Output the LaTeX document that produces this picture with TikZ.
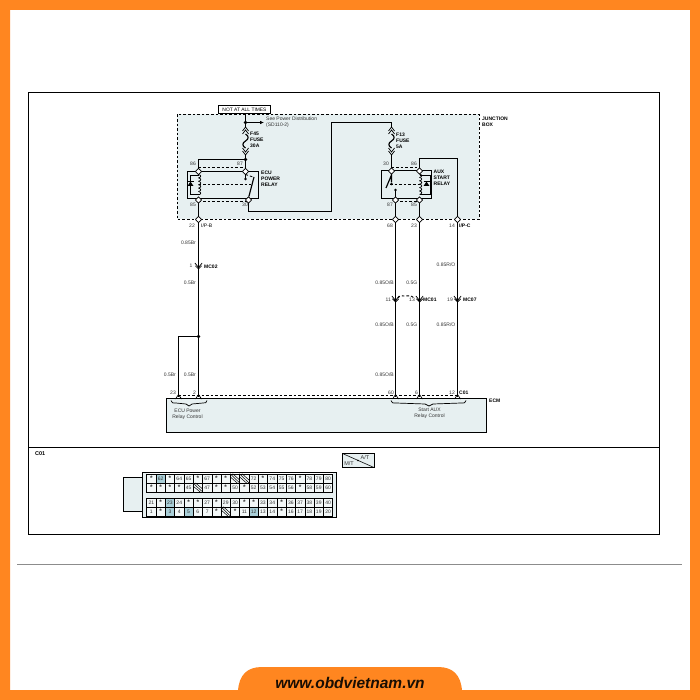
\documentclass[tikz,border=0pt]{standalone}
\usepackage{fontspec}
\setmainfont{Liberation Sans}
\usetikzlibrary{calc,arrows.meta}
\definecolor{orng}{HTML}{FF8620}
\definecolor{jbox}{HTML}{E7F0F1}
\definecolor{hl}{HTML}{A9CFD8}
\tikzset{
  wire/.style={line width=1.15pt,draw=black},
  dashw/.style={line width=0.9pt,draw=black,dash pattern=on 2.6pt off 2pt},
  lab/.style={font=\fontsize{5}{6}\selectfont,inner sep=0pt,text=black!80},
  blab/.style={font=\fontsize{5}{6}\selectfont\bfseries,inner sep=0pt,text=black},
  cell/.style={font=\fontsize{5}{5}\selectfont,inner sep=0pt,text=black!80},
  conn/.style={line width=0.7pt,draw=black},
  dotn/.style={circle,fill=black,inner sep=0pt,minimum size=3.6pt}
}
\newcommand{\stard}{\raisebox{-1.4pt}{\fontsize{6.5}{6}\selectfont\bfseries *}}
% connector glyphs
\newcommand{\dmd}[1]{\draw[conn,fill=white] ($(#1)+(0,-3.2)$) -- ($(#1)+(-3,0)$) -- ($(#1)+(0,3.2)$) -- ($(#1)+(3,0)$) -- cycle;}
\newcommand{\veeg}[1]{\draw[conn] ($(#1)+(-3.6,-3)$) -- ($(#1)+(0,1.5)$) -- ($(#1)+(3.6,-3)$) ($(#1)+(-3.2,-0.2)$) -- ($(#1)+(0,3)$) -- ($(#1)+(3.2,-0.2)$);}
\newcommand{\trig}[1]{\draw[conn] ($(#1)+(-3,2.5)$) -- ($(#1)+(0,-2)$) -- ($(#1)+(3,2.5)$);}
\newcommand{\coilat}[1]{\foreach \k in {0,...,5}{\draw[conn] ($(#1)+(0,\k*3.4+3)$) .. controls ($(#1)+(3,\k*3.4+3.6)$) and ($(#1)+(3,\k*3.4+5.8)$) .. ($(#1)+(0,\k*3.4+6.4)$);}}
\newcommand{\fuse}[1]{\draw[wire] ($(#1)+(0,6)$) .. controls ($(#1)+(3.5,8)$) and ($(#1)+(3.5,11)$) .. ($(#1)+(0,13)$) .. controls ($(#1)+(-3.5,15)$) and ($(#1)+(-3.5,18)$) .. ($(#1)+(0,20)$);
 \draw[conn] ($(#1)+(-3,3)$) -- ($(#1)+(0,-1)$) -- ($(#1)+(3,3)$) ($(#1)+(-3,6)$) -- ($(#1)+(0,2)$) -- ($(#1)+(3,6)$);
 \draw[conn] ($(#1)+(-3,20)$) -- ($(#1)+(0,24)$) -- ($(#1)+(3,20)$) ($(#1)+(-3,23)$) -- ($(#1)+(0,27)$) -- ($(#1)+(3,23)$);}
\newcommand{\diode}[1]{\fill[black] ($(#1)+(-3,2)$) -- ($(#1)+(3,2)$) -- ($(#1)+(0,-2.4)$) -- cycle; \draw[conn] ($(#1)+(-3,-2.4)$) -- ($(#1)+(3,-2.4)$);}
\begin{document}
\begin{tikzpicture}[x=1pt,y=-1pt]
\useasboundingbox (0,0) rectangle (700,700);
% frame
\fill[white] (0,0) rectangle (700,700);
\fill[orng,even odd rule] (0,0) rectangle (700,700) (10,10) rectangle (690,690);
\fill[orng] (238,691) .. controls (239,675) and (247,667) .. (262,667) -- (438,667) .. controls (453,667) and (461,675) .. (462,691) -- cycle;
\node[inner sep=0pt,font=\fontsize{15.5}{16}\selectfont\bfseries\itshape,text=black!90!orng] (site) at (350,683) {www.obdvietnam.vn};
\draw[black!45,line width=0.8pt] (17,564.5) -- (682,564.5);
% panel
\draw[black,line width=0.9pt] (28.5,92.5) rectangle (659.5,534.5);
\draw[black,line width=0.9pt] (28.5,447.5) -- (659.5,447.5);
% junction box
\draw[dashw,fill=jbox] (177,114.5) rectangle (479,219.5);
\node[blab,anchor=west,align=left] (jblabel) at (482,121.5) {JUNCTION\\BOX};
% ECM
\draw[fill=jbox,line width=0.9pt] (166.5,398.5) rectangle (486.5,432.5);
\node[blab,anchor=west] (ecmlabel) at (489,400.5) {ECM};
% coordinates
\coordinate (dotA) at (245.5,122.5);
\coordinate (seeT) at (264,122.5);
\coordinate (fuseL) at (245.5,128);
\coordinate (dotB) at (245.5,159.5);
\coordinate (n86) at (198.5,171.5);
\coordinate (n87) at (245.5,171.5);
\coordinate (n85) at (198.5,200);
\coordinate (n30) at (248.5,200);
\coordinate (j22) at (198.5,219.5);
\coordinate (mc1) at (198.5,266);
\coordinate (dotC) at (198.5,336.5);
\coordinate (e2) at (198.5,396.5);
\coordinate (e23) at (178.5,396.5);
\coordinate (fuseR) at (391.5,128);
\coordinate (a30) at (391.5,171);
\coordinate (a86) at (419.5,171);
\coordinate (a87) at (395.5,200);
\coordinate (a85) at (419.5,200);
\coordinate (j68) at (395.5,219.5);
\coordinate (j23) at (419.5,219.5);
\coordinate (j14) at (457.5,219.5);
\coordinate (m11) at (395.5,299);
\coordinate (m13) at (419.5,299);
\coordinate (m19) at (457.5,299);
\coordinate (e60) at (395.5,396.5);
\coordinate (e6) at (419.5,396.5);
\coordinate (e12) at (457.5,396.5);
% top box
\node[draw=black,line width=0.7pt,fill=white,inner sep=0pt,minimum width=52.5pt,minimum height=8pt,font=\fontsize{4.9}{5}\selectfont] (top) at (244.5,109.5) {NOT AT ALL TIMES};
% relay boxes
\draw[line width=0.9pt] (187.5,171.5) rectangle (258.5,198.5);
\draw[line width=0.9pt] (381.5,170.5) rectangle (431.5,198.5);
% left wires
\draw[wire] (top.south -| dotA) -- (dotA);
\draw[wire,-{Latex[length=4pt,width=3.6pt]}] (dotA) -- (seeT);
\draw[wire] (dotA) -- (fuseL);
\fuse{fuseL}
\draw[wire] (245.5,155) -- (dotB) -- (n87);
\draw[wire] (dotB) -- (198.5,159.5) -- (n86);
\draw[wire] (n87) -- (245.5,179);
\draw[wire] (n85) -- (j22) -- (e2);
\draw[wire] (n30) -- (248.5,211.5) -- (331.5,211.5) -- (331.5,122.5) -- (391.5,122.5) -- (fuseR);
\fuse{fuseR}
\draw[wire] (391.5,155) -- (a30);
\draw[wire] (dotC) -- (178.5,336.5) -- (e23);
% right wires
\draw[wire] (a86) -- (419.5,158.5) -- (457.5,158.5) -- (j14) -- (e12);
\draw[wire] (a87) -- (j68) -- (e60);
\draw[wire] (a85) -- (j23) -- (e6);
\draw[wire] (a87) -- (395.5,190);
% dashed
\draw[dashw] (198.5,167.5) -- (245.5,167.5);
\draw[dashw] (198.5,201.5) -- (248.5,201.5);
\draw[dashw] (198.5,184.5) -- (251,184.5);
\draw[dashw] (245.5,174.5) -- (253,177);
\draw[dashw] (391.5,167.5) -- (419.5,167.5);
\draw[dashw] (395.5,201.5) -- (419.5,201.5);
\draw[dashw] (390,184.5) -- (419.5,184.5);
\draw[dashw] (178.5,395.5) -- (457.5,395.5);
\draw[dashw] (398,298) .. controls (400,295) and (402,296) .. (405,296) .. controls (409,296) and (411,295) .. (414,298);
% coils & diodes
\coilat{n86}
\coilat{a86}
\draw[conn] (198.5,175) -- (190.5,175) -- (190.5,194) -- (198.5,194);
\draw[conn] (419.5,175) -- (430,175) -- (430,194) -- (419.5,194);
\diode{190.5,184}
\diode{426.5,184}
% switches
\node[dotn,minimum size=2.8pt] (c1) at (245.5,179) {};
\node[dotn,minimum size=2.8pt] (p1) at (248.5,198) {};
\draw[wire] (p1) -- (254,177);
\draw[wire] (n30) -- (p1);
\node[dotn,minimum size=2.8pt] (p2) at (391.5,184) {};
\node[dotn,minimum size=2.8pt] (c2) at (395.5,190) {};
\draw[wire] (a30) -- (391.5,175) -- (386,188) (391.5,175) -- (p2);
% connectors
\foreach \c in {n86,n87,n85,n30,a30,a86,a87,a85}{\dmd{\c}}
\foreach \c in {j22,j68,j23,j14}{\dmd{\c}}
\foreach \c in {mc1,m11,m13,m19}{\veeg{\c}}
\foreach \c in {e2,e23,e60,e6,e12}{\trig{\c}}
\node[dotn] (dA) at (dotA) {};
\node[dotn] (dB) at (dotB) {};
\node[dotn] (dC) at (dotC) {};
% braces
\draw[conn] (171,400.5) .. controls (172,403) .. (176,403) -- (186,404) -- (189,406) -- (192,404) -- (203,403) .. controls (206,403) .. (207,400.5);
\draw[conn] (391,400.5) .. controls (392,403) .. (396,403) -- (425,404) -- (429,406) -- (433,404) -- (461,403) .. controls (465,403) .. (466,400.5);
% labels
\node[lab,anchor=west,align=left] (see) at (266,122) {See Power Distribution\\(SD110-2)};
\node[blab,anchor=west,align=left] (f45) at (250,140) {F45\\FUSE\\30A};
\node[blab,anchor=west,align=left] (f13) at (396,141) {F13\\FUSE\\5A};
\node[blab,anchor=west,align=left] (ecur) at (261,178.5) {ECU\\POWER\\RELAY};
\node[blab,anchor=west,align=left] (auxr) at (433.5,178) {AUX\\START\\RELAY};
\node[lab,anchor=east] (l86) at (196,164) {86};
\node[lab,anchor=east] (l87) at (243,164) {87};
\node[lab,anchor=east] (l85) at (196,205) {85};
\node[lab,anchor=east] (l30) at (248,205) {30};
\node[lab,anchor=east] (la30) at (389,164) {30};
\node[lab,anchor=east] (la86) at (417,164) {86};
\node[lab,anchor=east] (la87) at (393,205) {87};
\node[lab,anchor=east] (la85) at (417,205) {85};
\node[lab,anchor=east] (l22) at (195,226) {22};
\node[blab,anchor=west,font=\fontsize{5}{5}\selectfont] (lipb) at (201,226) {I/P-B};
\node[lab,anchor=east] (l68) at (393,226) {68};
\node[lab,anchor=east] (l23b) at (417,226) {23};
\node[lab,anchor=east] (l14) at (455,226) {14};
\node[blab,anchor=west] (lipc) at (459,226) {I/P-C};
\node[lab,anchor=east] (w1) at (196,243) {0.85Br};
\node[lab,anchor=east] (c1n) at (192.5,266) {1};
\node[blab,anchor=west] (mc02) at (204,267) {MC02};
\node[lab,anchor=east] (w2) at (196,283) {0.5Br};
\node[lab,anchor=east] (w3) at (176,375) {0.5Br};
\node[lab,anchor=east] (w4) at (196,375) {0.5Br};
\node[lab,anchor=east] (w5) at (394,283) {0.85O/B};
\node[lab,anchor=east] (w6) at (417.5,283) {0.5G};
\node[lab,anchor=east] (w7) at (455.5,265) {0.85R/O};
\node[lab,anchor=east] (n11) at (391,300) {11};
\node[lab,anchor=east] (n13) at (415,300) {13};
\node[blab,anchor=west] (mc01) at (423,300) {MC01};
\node[lab,anchor=east] (n19) at (453,300) {19};
\node[blab,anchor=west] (mc07) at (463,300) {MC07};
\node[lab,anchor=east] (w8) at (394,325) {0.85O/B};
\node[lab,anchor=east] (w9) at (417.5,325) {0.5G};
\node[lab,anchor=east] (w10) at (455.5,325) {0.85R/O};
\node[lab,anchor=east] (w11) at (394,375) {0.85O/B};
\node[lab,anchor=east] (e23n) at (176,392.5) {23};
\node[lab,anchor=east] (e2n) at (196,392.5) {2};
\node[lab,anchor=east] (e60n) at (394,392.5) {60};
\node[lab,anchor=east] (e6n) at (418,392.5) {6};
\node[lab,anchor=east] (e12n) at (455,392.5) {12};
\node[blab,anchor=west] (c01a) at (459,392.5) {C01};
\node[lab,align=center] (ecuctl) at (187.5,414) {ECU Power\\Relay Control};
\node[lab,align=center] (auxctl) at (429.5,413) {Start AUX\\Relay Control};
% C01 section
\node[blab,anchor=west,font=\fontsize{5.5}{6}\selectfont\bfseries] (c01b) at (35,453.5) {C01};
\draw[fill=jbox,line width=0.8pt] (342.5,453.5) rectangle (374,467.5);
\draw[line width=0.6pt] (342.5,453.5) -- (374,467.5);
\node[dotn,minimum size=1.8pt] (mtd) at (358,460.5) {};
\node[lab,font=\fontsize{5.5}{6}\selectfont] (at) at (365,457.5) {A/T};
\node[lab,font=\fontsize{5.5}{6}\selectfont] (mt) at (349,463.5) {M/T};
% connector drawing
\draw[fill=jbox,line width=0.8pt] (143,477) -- (123.5,477) -- (123.5,511) -- (143,511);
\draw[fill=white,line width=0.9pt] (142.5,472) rectangle (336.5,517.5);
\fill[jbox] (143,472.5) rectangle (146.5,517);
\fill[jbox] (333,472.5) rectangle (336,517);
\fill[jbox] (146.5,491.8) rectangle (333,498);
\def\cw{9.3}
\foreach \ry/\rh/\rn/\items in {
 474/9/a/{\stard,62,\stard,64,65,\stard,67,\stard,\stard,,,72,\stard,74,75,76,\stard,78,79,80},
 483.2/8.6/b/{\stard,\stard,\stard,\stard,45,,47,\stard,\stard,50,\stard,52,53,54,55,56,\stard,58,59,60},
 498/9/c/{21,\stard,23,24,\stard,\stard,27,\stard,29,30,\stard,\stard,33,34,\stard,36,37,38,39,40},
 507/9/d/{1,\stard,3,4,5,6,7,\stard,,\stard,11,12,13,14,\stard,16,17,18,19,20}}{
 \foreach \t [count=\i] in \items {
  \pgfmathsetmacro{\xa}{146.7+(\i-1)*\cw}
  \pgfmathsetmacro{\xc}{\xa+\cw/2}
  \pgfmathsetmacro{\yc}{\ry+\rh/2}
  \node[cell,draw=black,line width=0.5pt,minimum width=\cw pt,minimum height=\rh pt,fill=jbox!50] (cell\rn\i) at (\xc,\yc) {\t};
 }
}
% highlighted
\foreach \rn/\i/\t in {a/2/62,c/3/23,d/3/3,d/5/5,d/12/12}{
 \node[cell,draw=black,line width=0.5pt,minimum width=\cw pt,fill=hl,minimum height=9pt] (hi\rn\i) at (cell\rn\i) {\t};
}
% hatched
\foreach \c in {a10,a11,b6,d9}{
 \draw[line width=0.5pt] (cell\c.north west) -- (cell\c.south east);
 \draw[line width=0.5pt] ($(cell\c.north west)+(2.5,0)$) -- ($(cell\c.south east)+(0,-3)$);
 \draw[line width=0.5pt] ($(cell\c.north west)+(0,3)$) -- ($(cell\c.south east)+(-2.5,0)$);
}
\end{tikzpicture}
\end{document}
